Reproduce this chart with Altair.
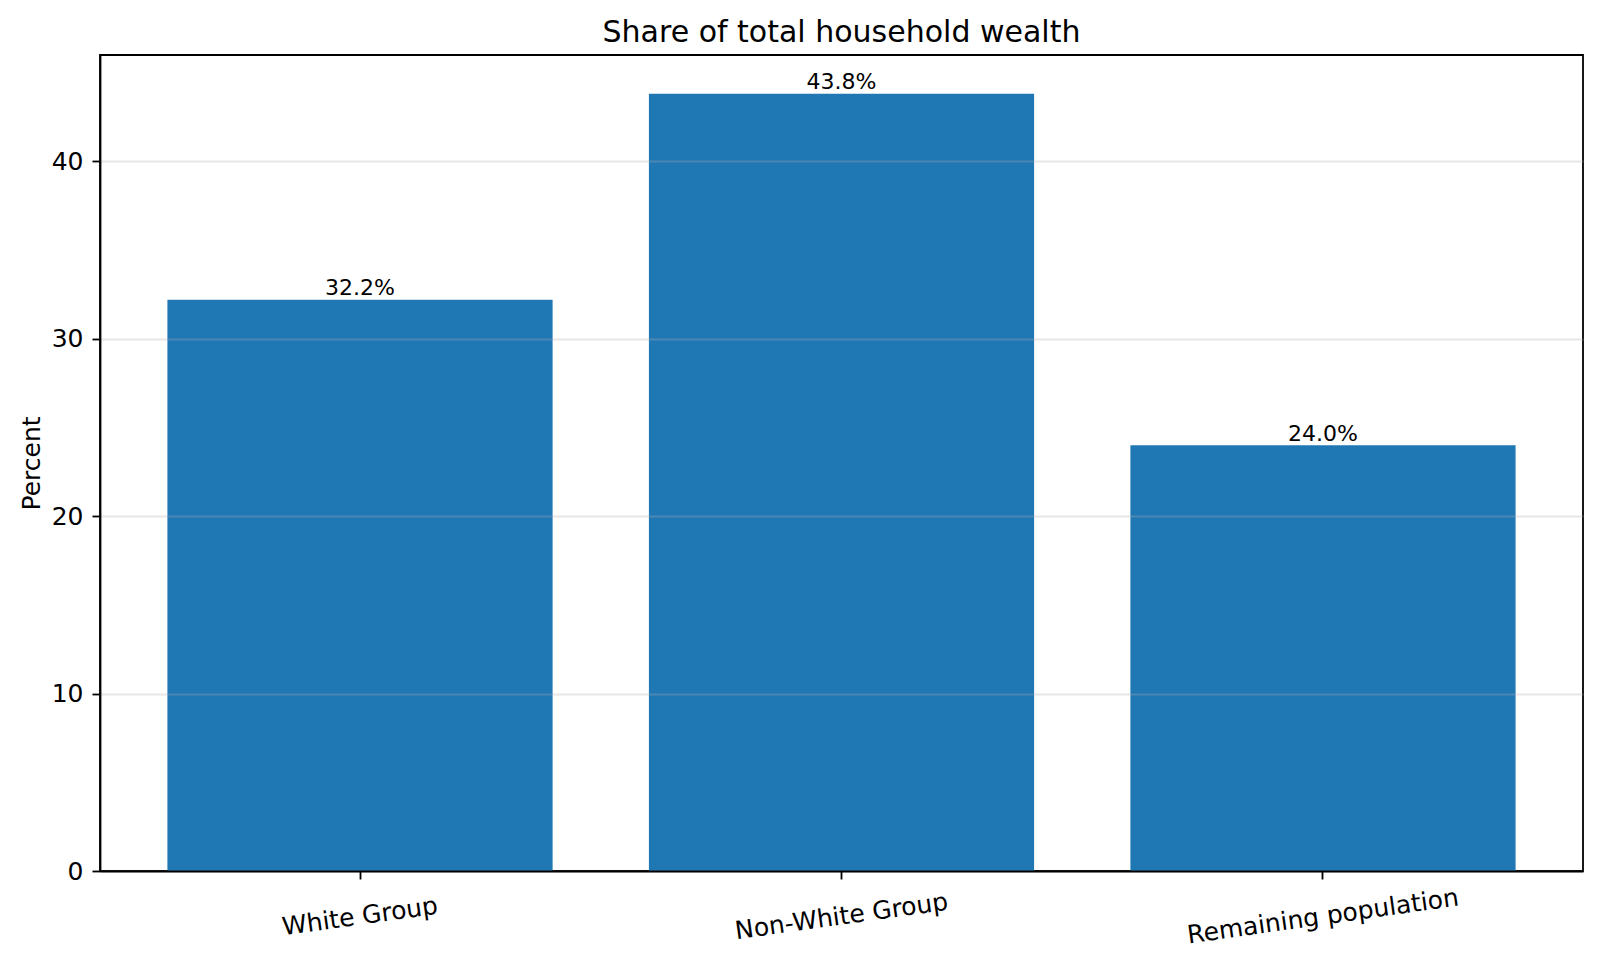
import altair as alt
import pandas as pd

categories = ["White Group", "Non-White Group", "Remaining population"]
values = [32.2, 43.8, 24.0]
y_ticks = [0, 10, 20, 30, 40]

df = pd.DataFrame({"group": categories, "value": values})

FONT = "DejaVu Sans"

base = alt.Chart(df).encode(
    x=alt.X(
        "group:N",
        sort=categories,
        scale=alt.Scale(paddingInner=0.2, paddingOuter=0.14),
        axis=alt.Axis(
            title=None,
            labelAngle=-8,
            labelAlign="center",
            labelBaseline="middle",
            labelPadding=37,
            labelFontSize=25,
            labelFont=FONT,
            labelColor="black",
            labelLimit=1000,
            tickSize=8,
            tickWidth=1.8,
            tickColor="black",
            domainColor="black",
            domainWidth=1.8,
            grid=False,
            zindex=1,
        ),
    ),
    y=alt.Y(
        "value:Q",
        scale=alt.Scale(domain=[0, 45.99], nice=False, zero=True),
        axis=alt.Axis(
            title="Percent",
            titleFont=FONT,
            titleFontSize=25,
            titleFontWeight="normal",
            titleColor="black",
            titlePadding=7,
            values=y_ticks,
            labelFontSize=25,
            labelFont=FONT,
            labelColor="black",
            labelPadding=9,
            tickSize=8,
            tickWidth=1.8,
            tickColor="black",
            domainColor="black",
            domainWidth=1.8,
            grid=True,
            gridColor="#b0b0b0",
            gridOpacity=0.3,
            gridWidth=1.8,
            zindex=1,
        ),
    ),
)

bars = base.mark_bar(color="#1f77b4")

labels = base.transform_calculate(
    label="format(datum.value, '.1f') + '%'"
).mark_text(
    baseline="alphabetic",
    align="center",
    dy=-4.5,
    fontSize=22,
    font=FONT,
    color="black",
).encode(text="label:N")

chart = (
    alt.layer(bars, labels)
    .properties(
        width=1483,
        height=816,
        background="white",
        title=alt.TitleParams(
            "Share of total household wealth",
            font=FONT,
            fontSize=30,
            fontWeight="normal",
            color="black",
            anchor="middle",
            baseline="alphabetic",
            offset=-17,
        ),
        autosize=alt.AutoSizeParams(type="none"),
        padding={"left": 92, "top": 47, "right": 9, "bottom": 89},
    )
    .configure_view(stroke="black", strokeWidth=1.8)
)

chart.save("out.html", embed_options={"renderer": "svg", "actions": False})
